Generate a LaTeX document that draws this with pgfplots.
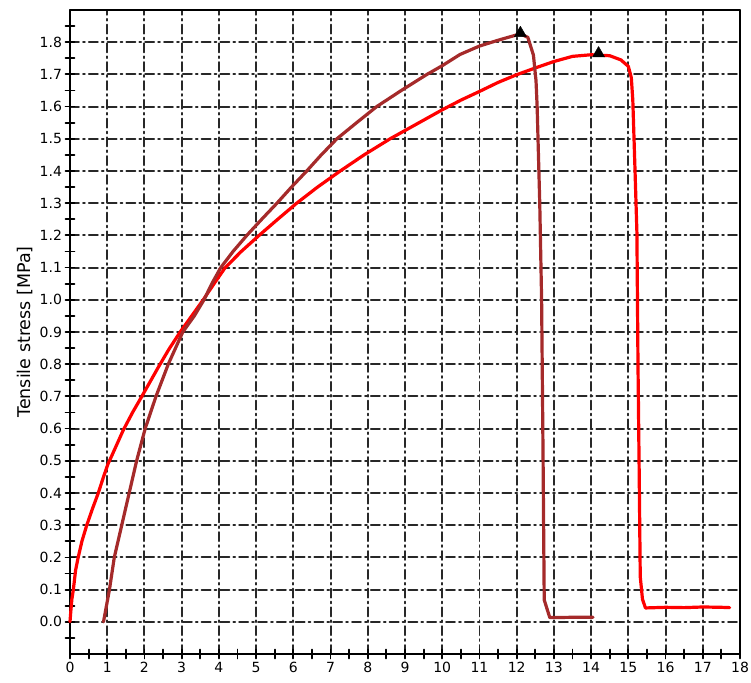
\documentclass[border=0pt]{standalone}
\usepackage{pgfplots}
\pgfplotsset{compat=1.18}
\usepackage{fontspec}
\setmainfont{DejaVu Sans}
\definecolor{brownline}{RGB}{165,42,42}
\definecolor{redline}{RGB}{255,0,0}
\definecolor{gridgray}{RGB}{40,40,40}

\begin{document}
\begin{tikzpicture}
\begin{axis}[
  scale only axis, width=670pt, height=644pt,
  xmin=0, xmax=18, ymin=-0.1, ymax=1.9,
  xtick={0,1,2,3,4,5,6,7,8,9,10,11,12,13,14,15,16,17,18},
  ytick={0,0.1,0.2,0.3,0.4,0.5,0.6,0.7,0.8,0.9,1.0,1.1,1.2,1.3,1.4,1.5,1.6,1.7,1.8},
  minor xtick={0.5,1.5,2.5,3.5,4.5,5.5,6.5,7.5,8.5,9.5,10.5,11.5,12.5,13.5,14.5,15.5,16.5,17.5},
  minor ytick={-0.05,0.05,0.15,0.25,0.35,0.45,0.55,0.65,0.75,0.85,0.95,1.05,1.15,1.25,1.35,1.45,1.55,1.65,1.75,1.85},
  tick pos=left, tick align=center,
  major tick length=9pt, minor tick length=9pt,
  every tick/.style={line width=1.8pt, black},
  axis line style={line width=1.9pt, black},
  grid=major,
  major grid style={line width=1.9pt, gridgray, dash pattern=on 9pt off 4pt on 1.8pt off 4pt},
  /pgf/number format/assume math mode=true,
  ticklabel style={font=\fontsize{14}{16}\selectfont},
  yticklabel style={/pgf/number format/.cd, fixed, fixed zerofill, precision=1},
  xticklabel style={/pgf/number format/.cd, fixed, precision=0},
  ylabel={Tensile stress [MPa]},
  ylabel style={font=\fontsize{17.5}{20}\selectfont},
  clip=false,
  line join=round, line cap=round,
]
\addplot[redline, line width=3.2pt, mark=none] coordinates {
(0,0) (0.02,0.03) (0.05,0.07) (0.09,0.10) (0.15,0.16) (0.22,0.20) (0.32,0.25)
(0.45,0.30) (0.60,0.35) (0.76,0.40) (0.90,0.45) (1.02,0.49) (1.12,0.515)
(1.43,0.595) (1.68,0.65) (1.93,0.70) (2.15,0.745) (2.37,0.79) (2.65,0.845)
(2.96,0.90) (3.27,0.95) (3.58,1.00) (3.87,1.05) (4.17,1.10) (4.60,1.15)
(5.08,1.20) (5.58,1.25) (6.09,1.30) (6.65,1.35) (7.26,1.40) (7.90,1.45)
(8.60,1.50) (9.30,1.545) (10.0,1.59) (10.5,1.62) (11.0,1.647) (11.5,1.675)
(12.0,1.699) (12.5,1.72) (13.0,1.74) (13.5,1.756) (14.0,1.761) (14.5,1.758)
(14.8,1.745) (15.0,1.725) (15.08,1.69) (15.12,1.62) (15.18,1.40) (15.23,1.21)
(15.26,0.79) (15.29,0.48) (15.32,0.14) (15.38,0.07) (15.46,0.043) (16.0,0.045)
(16.5,0.044) (17.0,0.046) (17.5,0.045) (17.72,0.044)
};
\addplot[brownline, line width=3.2pt, mark=none] coordinates {
(0.90,0) (1.06,0.10) (1.19,0.20) (1.39,0.30) (1.59,0.40) (1.79,0.50)
(2.02,0.60) (2.31,0.70) (2.64,0.80) (3.03,0.90) (3.34,0.95) (3.60,1.00)
(3.81,1.05) (4.05,1.10) (4.38,1.15) (4.75,1.20) (5.15,1.25) (5.56,1.30)
(5.95,1.35) (6.36,1.40) (6.75,1.45) (7.17,1.50) (7.70,1.55) (8.24,1.60)
(8.90,1.65) (9.59,1.70) (10.0,1.727) (10.48,1.762) (11.0,1.788) (11.5,1.806)
(12.1,1.826) (12.3,1.815) (12.45,1.76) (12.52,1.68) (12.55,1.60) (12.62,1.30)
(12.67,1.00) (12.71,0.50) (12.74,0.068) (12.89,0.013) (13.5,0.014) (14.05,0.014)
};
\addplot[only marks, mark=triangle*, mark size=7pt, black] coordinates {
(12.1,1.828) (14.2,1.765)
};
\end{axis}
\pgfresetboundingbox
\path ([xshift=-70pt,yshift=-28pt]current axis.south west) rectangle ([xshift=11pt,yshift=10pt]current axis.north east);
\end{tikzpicture}
\end{document}
